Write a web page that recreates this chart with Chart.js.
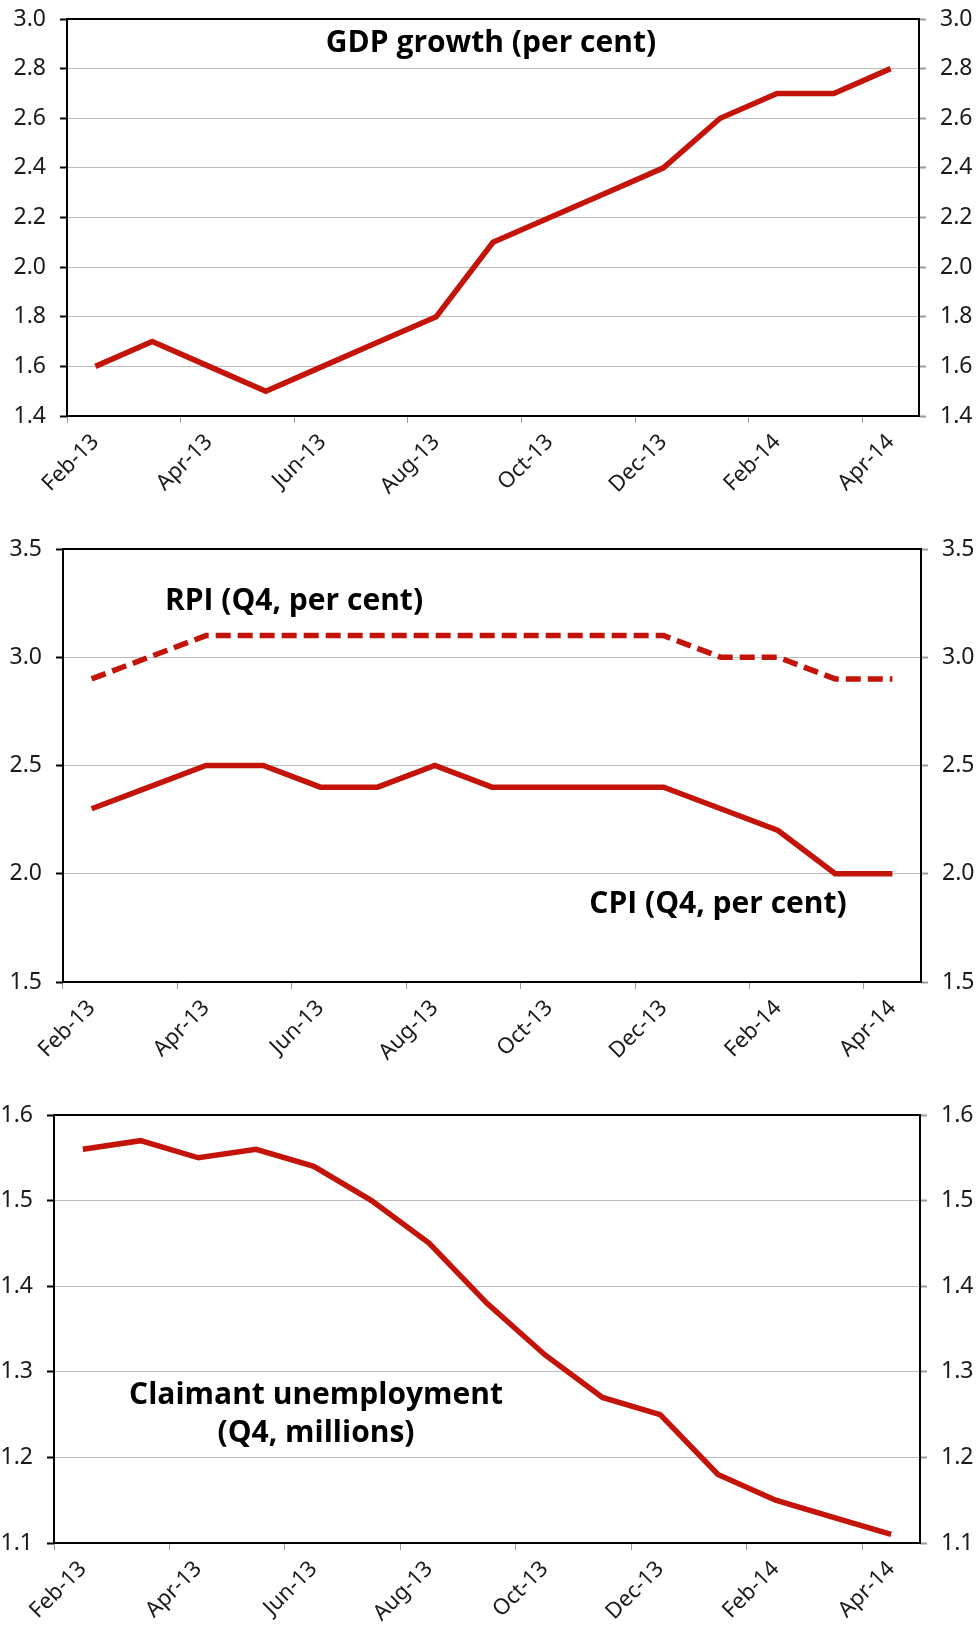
<!DOCTYPE html>
<html>
<head>
<meta charset="utf-8">
<script src="https://cdn.jsdelivr.net/npm/chart.js@4.4.1/dist/chart.umd.min.js"></script>
<style>
body{margin:0;background:#fff;}
canvas{position:absolute;left:0;}
</style>
</head>
<body>
<canvas id="gdpChart" width="978" height="530" style="top:-10px"></canvas>
<canvas id="inflationChart" width="978" height="560" style="top:520px"></canvas>
<canvas id="claimantChart" width="978" height="547" style="top:1080px"></canvas>
<script>
const months = ['Feb-13','Mar-13','Apr-13','May-13','Jun-13','Jul-13','Aug-13','Sep-13',
                'Oct-13','Nov-13','Dec-13','Jan-14','Feb-14','Mar-14','Apr-14'];

const gdpGrowth = [1.6,1.7,1.6,1.5,1.6,1.7,1.8,2.1,2.2,2.3,2.4,2.6,2.7,2.7,2.8];
const rpi       = [2.9,3.0,3.1,3.1,3.1,3.1,3.1,3.1,3.1,3.1,3.1,3.0,3.0,2.9,2.9];
const cpi       = [2.3,2.4,2.5,2.5,2.4,2.4,2.5,2.4,2.4,2.4,2.4,2.3,2.2,2.0,2.0];
const claimant  = [1.56,1.57,1.55,1.56,1.54,1.50,1.45,1.38,1.32,1.27,1.25,1.18,1.15,1.13,1.11];

const gdpRange      = [1.4, 3.0, 0.2];
const inflationRange = [1.5, 3.5, 0.5];
const claimantRange = [1.1, 1.6, 0.1];

const RED = '#c4140a';
const LINE_W = 5.5;
const Y_FONT = {family: "'Noto Sans', sans-serif", size: 23};
const X_FONT = {family: "'Noto Sans', sans-serif", size: 22};
const NOTE_FONT = "bold 30px 'Open Sans', sans-serif";

// box round the plot area
const framePlugin = {
    id: 'frame',
    beforeDatasetsDraw(chart) {
        const a = chart.chartArea;
        const ctx = chart.ctx;
        ctx.save();
        ctx.strokeStyle = '#000';
        ctx.lineWidth = 2;
        ctx.strokeRect(a.left, a.top, a.right - a.left, a.bottom - a.top);
        ctx.restore();
    }
};

function notesPlugin(items) {
    return {
        id: 'notes',
        afterDatasetsDraw(chart) {
            const ctx = chart.ctx;
            ctx.save();
            ctx.font = NOTE_FONT;
            ctx.fillStyle = '#000';
            ctx.textAlign = 'center';
            ctx.textBaseline = 'alphabetic';
            items.forEach(n => ctx.fillText(n.text, n.x, n.y));
            ctx.restore();
        }
    };
}

function chartOptions(range, box) {
    const [min, max, step] = range;
    const yTicks = {
        stepSize: step,
        font: Y_FONT,
        color: '#1a1a1a',
        padding: 14,
        callback: v => v.toFixed(1)
    };
    return {
        responsive: false,
        animation: false,
        devicePixelRatio: 1,
        layout: {padding: {top: box.top, left: 0, right: 0, bottom: 0}},
        plugins: {legend: {display: false}, tooltip: {enabled: false}},
        elements: {point: {radius: 0}},
        scales: {
            x: {
                offset: true,
                border: {display: false},
                grid: {
                    offset: true,
                    drawOnChartArea: false,
                    tickLength: 7,
                    tickColor: c => c.index % 2 === 0 ? '#9a9a9a' : 'rgba(0,0,0,0)'
                },
                ticks: {
                    autoSkip: false,
                    minRotation: 45,
                    maxRotation: 45,
                    padding: 6,
                    font: X_FONT,
                    color: '#1a1a1a',
                    callback: function(v, i) { return i % 2 === 0 ? this.getLabelForValue(v) : ''; }
                },
                afterFit: s => { s.height = box.xHeight; }
            },
            y: {
                min: min, max: max,
                border: {display: false},
                grid: {color: '#bcbcbc', lineWidth: 1, tickLength: 7, tickColor: '#000', tickWidth: 2},
                ticks: yTicks,
                afterFit: s => { s.width = box.left; }
            },
            y2: {
                position: 'right',
                min: min, max: max,
                border: {display: false},
                grid: {drawOnChartArea: false, tickLength: 7, tickColor: '#9a9a9a', tickWidth: 2},
                ticks: yTicks,
                afterFit: s => { s.width = box.right; }
            }
        }
    };
}

function GdpChart() {
    const ctx = document.getElementById('gdpChart');
    new Chart(ctx, {
        type: 'line',
        data: {
            labels: months,
            datasets: [{
                label: 'GDP growth',
                data: gdpGrowth,
                borderColor: RED,
                borderWidth: LINE_W,
                borderJoinStyle: 'miter',
                tension: 0
            }]
        },
        options: chartOptions(gdpRange, {top: 29, left: 67, right: 59, xHeight: 104}),
        plugins: [framePlugin, notesPlugin([{text: 'GDP growth (per cent)', x: 491, y: 62}])]
    });
}

function InflationChart() {
    const ctx = document.getElementById('inflationChart');
    new Chart(ctx, {
        type: 'line',
        data: {
            labels: months,
            datasets: [
                {
                    label: 'RPI',
                    data: rpi,
                    borderColor: RED,
                    borderWidth: LINE_W,
                    borderDash: [15, 7],
                    borderJoinStyle: 'miter',
                    tension: 0
                },
                {
                    label: 'CPI',
                    data: cpi,
                    borderColor: RED,
                    borderWidth: LINE_W,
                    borderJoinStyle: 'miter',
                    tension: 0
                }
            ]
        },
        options: chartOptions(inflationRange, {top: 29, left: 63, right: 57, xHeight: 98}),
        plugins: [framePlugin, notesPlugin([
            {text: 'RPI (Q4, per cent)', x: 294, y: 90},
            {text: 'CPI (Q4, per cent)', x: 718, y: 393}
        ])]
    });
}

function ClaimantChart() {
    const ctx = document.getElementById('claimantChart');
    new Chart(ctx, {
        type: 'line',
        data: {
            labels: months,
            datasets: [{
                label: 'Claimant unemployment',
                data: claimant,
                borderColor: RED,
                borderWidth: LINE_W,
                borderJoinStyle: 'miter',
                tension: 0
            }]
        },
        options: chartOptions(claimantRange, {top: 35, left: 54, right: 58, xHeight: 84}),
        plugins: [framePlugin, notesPlugin([
            {text: 'Claimant unemployment', x: 316, y: 324},
            {text: '(Q4, millions)', x: 316, y: 362}
        ])]
    });
}

function loading(){
    GdpChart();
    InflationChart();
    ClaimantChart();
}

loading();
</script>
</body>
</html>
